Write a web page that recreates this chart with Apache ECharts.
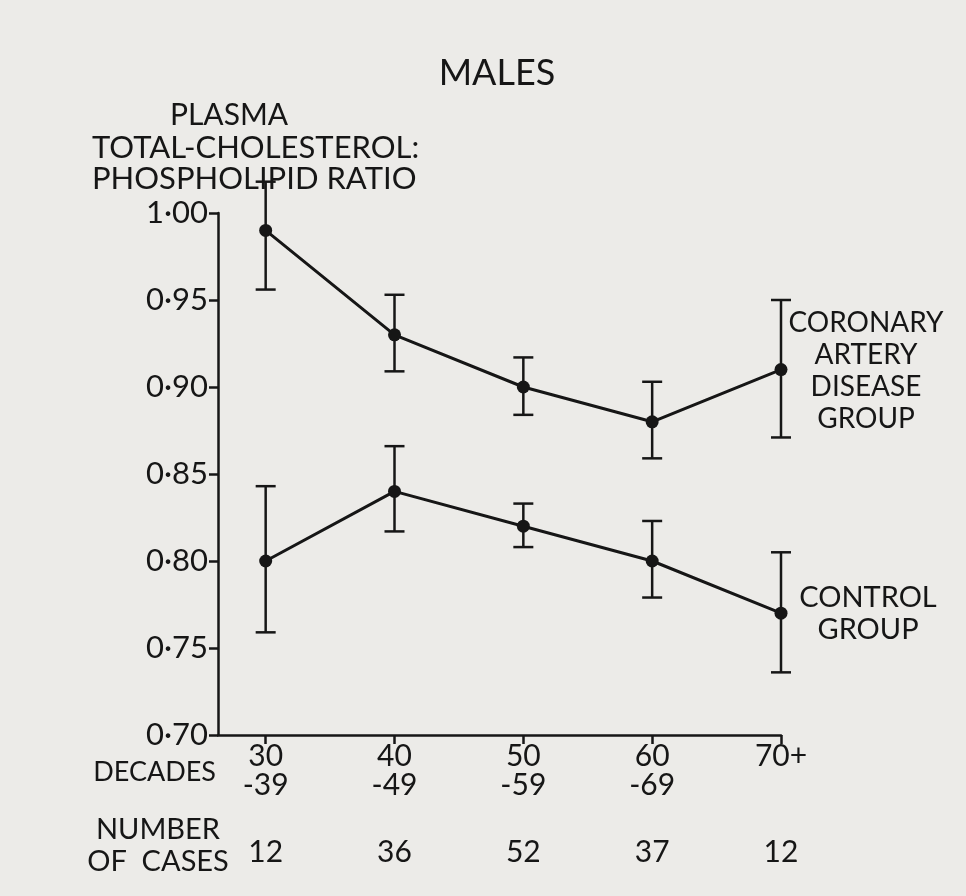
<!DOCTYPE html>
<html>
<head>
<meta charset="utf-8">
<script src="https://cdn.jsdelivr.net/npm/echarts@6/dist/echarts.min.js"></script>
<style>
  html, body { margin: 0; padding: 0; background: #ecebe8; }
  #chart { width: 966px; height: 896px; }
</style>
</head>
<body>
<div id="chart"></div>
<script>
var decades = ['30\n-39', '40\n-49', '50\n-59', '60\n-69', '70+'];
var cases = [12, 36, 52, 37, 12];
var positions = [0, 1, 2, 3, 4];

// coronary artery disease group
var cadMean = [0.99, 0.93, 0.90, 0.88, 0.91];
var cadLow = [0.956, 0.909, 0.884, 0.859, 0.871];
var cadHigh = [1.018, 0.953, 0.917, 0.903, 0.950];

// control group
var ctlMean = [0.80, 0.84, 0.82, 0.80, 0.77];
var ctlLow = [0.759, 0.817, 0.808, 0.779, 0.736];
var ctlHigh = [0.843, 0.866, 0.833, 0.823, 0.805];

var ink = '#161616';
var font = 'Lato';

var myChart = echarts.init(document.getElementById('chart'));

function pairs(ys) {
    return ys.map(function (y, i) { return [positions[i], y]; });
}
function bars(lo, hi) {
    return lo.map(function (l, i) { return [positions[i], l, hi[i]]; });
}

function errorBar(params, api) {
    var x = api.value(0);
    var lo = api.coord([x, api.value(1)]);
    var hi = api.coord([x, api.value(2)]);
    var w = 10;
    var st = { stroke: ink, lineWidth: 2.5 };
    return {
        type: 'group',
        children: [
            { type: 'line', shape: { x1: lo[0], y1: lo[1], x2: hi[0], y2: hi[1] }, style: st },
            { type: 'line', shape: { x1: lo[0] - w, y1: lo[1], x2: lo[0] + w, y2: lo[1] }, style: st },
            { type: 'line', shape: { x1: hi[0] - w, y1: hi[1], x2: hi[0] + w, y2: hi[1] }, style: st }
        ]
    };
}

function txt(text, x, y, align, size) {
    return {
        type: 'text',
        x: x, y: y,
        style: {
            text: text,
            fill: ink,
            font: (size || 29) + 'px ' + font,
            align: align || 'center',
            verticalAlign: 'middle',
            lineHeight: 32
        }
    };
}

option = {
    backgroundColor: '#ecebe8',
    animation: false,
    title: {
        text: 'MALES',
        left: 492,
        top: 50,
        textAlign: 'center',
        textStyle: { fontFamily: font, fontSize: 36, fontWeight: 'normal', color: ink }
    },
    grid: { left: 218, top: 213, right: 185, bottom: 161 },
    xAxis: [
        {
            type: 'value',
            min: -0.37,
            max: 4,
            splitLine: { show: false },
            axisLine: { onZero: false, lineStyle: { color: ink, width: 2.5 } },
            axisTick: { customValues: positions, length: 9, lineStyle: { color: ink, width: 2.5 } },
            axisLabel: {
                customValues: positions,
                margin: 7,
                color: ink,
                fontFamily: font,
                fontSize: 30,
                lineHeight: 29,
                formatter: function (v) { return decades[Math.round(v)]; }
            }
        },
        {
            type: 'value',
            min: -0.37,
            max: 4,
            position: 'bottom',
            offset: 94,
            splitLine: { show: false },
            axisLine: { show: false },
            axisTick: { show: false },
            axisLabel: {
                customValues: positions,
                color: ink,
                fontFamily: font,
                fontSize: 30,
                formatter: function (v) { return String(cases[Math.round(v)]); }
            }
        }
    ],
    yAxis: {
        type: 'value',
        min: 0.70,
        max: 1.00,
        interval: 0.05,
        splitLine: { show: false },
        axisLine: { show: true, onZero: false, lineStyle: { color: ink, width: 2.5 } },
        axisTick: { show: true, length: 9, lineStyle: { color: ink, width: 2.5 } },
        axisLabel: {
            margin: 10,
            color: ink,
            fontFamily: font,
            fontSize: 31,
            formatter: function (v) { return v.toFixed(2).replace('.', '·'); }
        }
    },
    graphic: [
        txt('PLASMA', 229, 115, 'center', 30),
        txt('TOTAL-CHOLESTEROL:', 92, 148, 'left', 31),
        txt('PHOSPHOLIPID RATIO', 92, 179, 'left', 31),
        txt('CORONARY\nARTERY\nDISEASE\nGROUP', 866, 371, 'center', 28),
        txt('CONTROL\nGROUP', 868, 614),
        txt('DECADES', 216, 772, 'right', 27),
        txt('NUMBER\nOF  CASES', 158, 846)
    ],
    series: [
        {
            name: 'Coronary artery disease group',
            type: 'line',
            data: pairs(cadMean),
            symbol: 'circle',
            symbolSize: 13,
            lineStyle: { color: ink, width: 3 },
            itemStyle: { color: ink },
            z: 3
        },
        {
            name: 'Control group',
            type: 'line',
            data: pairs(ctlMean),
            symbol: 'circle',
            symbolSize: 13,
            lineStyle: { color: ink, width: 3 },
            itemStyle: { color: ink },
            z: 3
        },
        {
            type: 'custom',
            clip: false,
            renderItem: errorBar,
            data: bars(cadLow, cadHigh),
            z: 2
        },
        {
            type: 'custom',
            clip: false,
            renderItem: errorBar,
            data: bars(ctlLow, ctlHigh),
            z: 2
        }
    ]
};

myChart.setOption(option);
</script>
</body>
</html>
